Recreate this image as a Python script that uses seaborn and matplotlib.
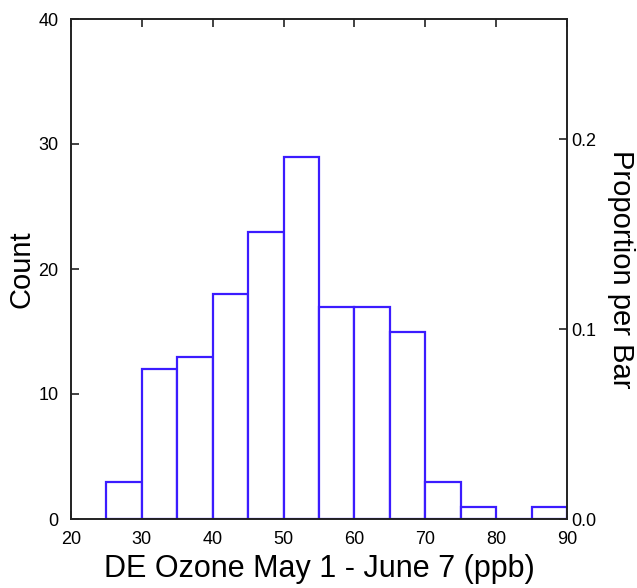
import numpy as np
import pandas as pd
import matplotlib
matplotlib.use("Agg")
import matplotlib.pyplot as plt
import seaborn as sns

# bin edges and counts
bin_edges = [25, 30, 35, 40, 45, 50, 55, 60, 65, 70, 75, 80, 85, 90]
counts = [3, 12, 13, 18, 23, 29, 17, 17, 15, 3, 1, 0, 1]
x_ticks = [20, 30, 40, 50, 60, 70, 80, 90]
count_ticks = [0, 10, 20, 30, 40]
prop_ticks = [0.0, 0.1, 0.2]

sns.set_style("ticks")
plt.rcParams['font.family'] = ['Liberation Sans', 'DejaVu Sans']
plt.rcParams['text.color'] = 'black'
plt.rcParams['axes.labelcolor'] = 'black'

centers = [(a + b) / 2 for a, b in zip(bin_edges[:-1], bin_edges[1:])]
df = pd.DataFrame({'ozone': centers, 'n': counts})
total = sum(counts)

fig = plt.figure(figsize=(6.37, 5.88), dpi=100)
ax = fig.add_axes([71 / 637, 1 - 519 / 588, 496 / 637, 500 / 588])

sns.histplot(data=df, x='ozone', weights='n', bins=bin_edges, ax=ax,
             color='white', edgecolor='#3b1cff', linewidth=1.6, alpha=1)

ax.set_xlim(20, 90)
ax.set_ylim(0, 40)
ax.set_xticks(x_ticks)
ax.set_yticks(count_ticks)
ax.tick_params(direction='in', length=6, width=1.2, labelsize=13, colors='#222222',
               top=True, labelcolor='black')
ax.tick_params(axis='x', pad=9)
ax.tick_params(axis='y', pad=9)
ax.set_xlabel('DE Ozone May 1 - June 7 (ppb)', fontsize=22, labelpad=4)
ax.set_ylabel('Count', fontsize=21, labelpad=2)
for s in ax.spines.values():
    s.set_linewidth(1.2)
    s.set_color('#222222')

ax2 = ax.twinx()
ax2.set_ylim(0, 40 / total)
ax2.set_yticks(prop_ticks)
ax2.set_yticklabels(['0.0', '0.1', '0.2'])
ax2.tick_params(direction='in', length=6, width=1.2, labelsize=13, colors='#222222',
                labelcolor='black', pad=3)
ax2.set_ylabel('Proportion per Bar', fontsize=21, rotation=270, labelpad=28)
for s in ax2.spines.values():
    s.set_linewidth(1.2)
    s.set_color('#222222')

fig.savefig('out.png', dpi=100, facecolor='white')
